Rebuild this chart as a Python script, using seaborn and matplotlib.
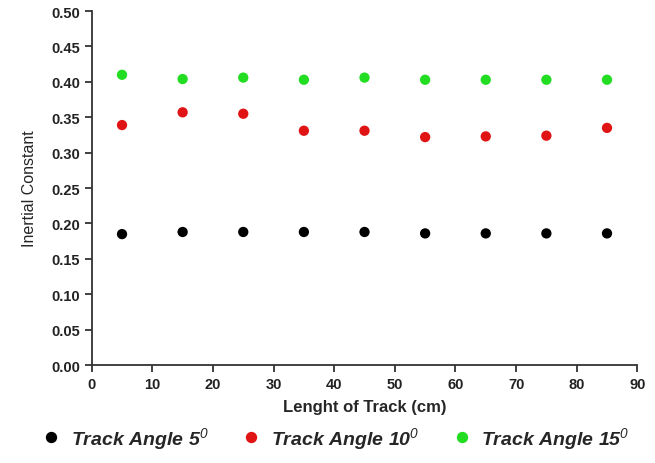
import pandas as pd
import matplotlib.pyplot as plt
import seaborn as sns

# Data
length_cm = [5, 15, 25, 35, 45, 55, 65, 75, 85]
angle_5 = [0.185, 0.188, 0.188, 0.188, 0.188, 0.186, 0.186, 0.186, 0.186]
angle_10 = [0.339, 0.357, 0.355, 0.331, 0.331, 0.322, 0.323, 0.324, 0.335]
angle_15 = [0.410, 0.404, 0.406, 0.403, 0.406, 0.403, 0.403, 0.403, 0.403]

labels = [r'Track Angle 5$^{0}$', r'Track Angle 10$^{0}$', r'Track Angle 15$^{0}$']
colors = ['#000000', '#e01414', '#22dd22']

df = pd.concat([
    pd.DataFrame({'length': length_cm, 'value': vals, 'series': lab})
    for vals, lab in zip([angle_5, angle_10, angle_15], labels)
])

sns.set_style("ticks")
plt.rcParams['font.family'] = ['Liberation Sans', 'DejaVu Sans']
plt.rcParams['mathtext.fontset'] = 'custom'
plt.rcParams['mathtext.it'] = 'Liberation Sans:italic'
plt.rcParams['mathtext.rm'] = 'Liberation Sans:italic'

fig = plt.figure(figsize=(6.55, 4.64), dpi=100)
ax = fig.add_axes([0.140, 0.211, 0.833, 0.763])

sns.scatterplot(data=df, x='length', y='value', hue='series', palette=colors,
                s=55, edgecolor='none', ax=ax, legend=True)

ax.set_xlim(0, 90)
ax.set_ylim(0, 0.5)
ax.set_xticks(range(0, 91, 10))
ax.set_yticks([i * 0.05 for i in range(11)])
ax.set_yticklabels([f'{i * 0.05:.2f}' for i in range(11)])
sns.despine(ax=ax)
ax.spines['left'].set_color('#333333')
ax.spines['bottom'].set_color('#333333')
ax.spines['left'].set_linewidth(1.3)
ax.spines['bottom'].set_linewidth(1.3)
ax.tick_params(direction='out', length=5, width=1.3, color='#333333', labelsize=10.5)
for t in ax.get_xticklabels() + ax.get_yticklabels():
    t.set_fontweight('bold')
    t.set_color('#222222')

ax.set_xlabel('Lenght of Track (cm)', fontsize=12, fontweight='bold', labelpad=6)
ax.set_ylabel('Inertial Constant', fontsize=11.5, labelpad=10)

handles, labs = ax.get_legend_handles_labels()
ax.legend_.remove()
fig.legend(handles, labs, loc='lower center', bbox_to_anchor=(0.505, -0.012), ncol=3,
           frameon=False, handletextpad=0.0, columnspacing=1.2, markerscale=1.1,
           prop={'style': 'italic', 'weight': 'bold', 'size': 14})

plt.savefig('out.png', dpi=100)
